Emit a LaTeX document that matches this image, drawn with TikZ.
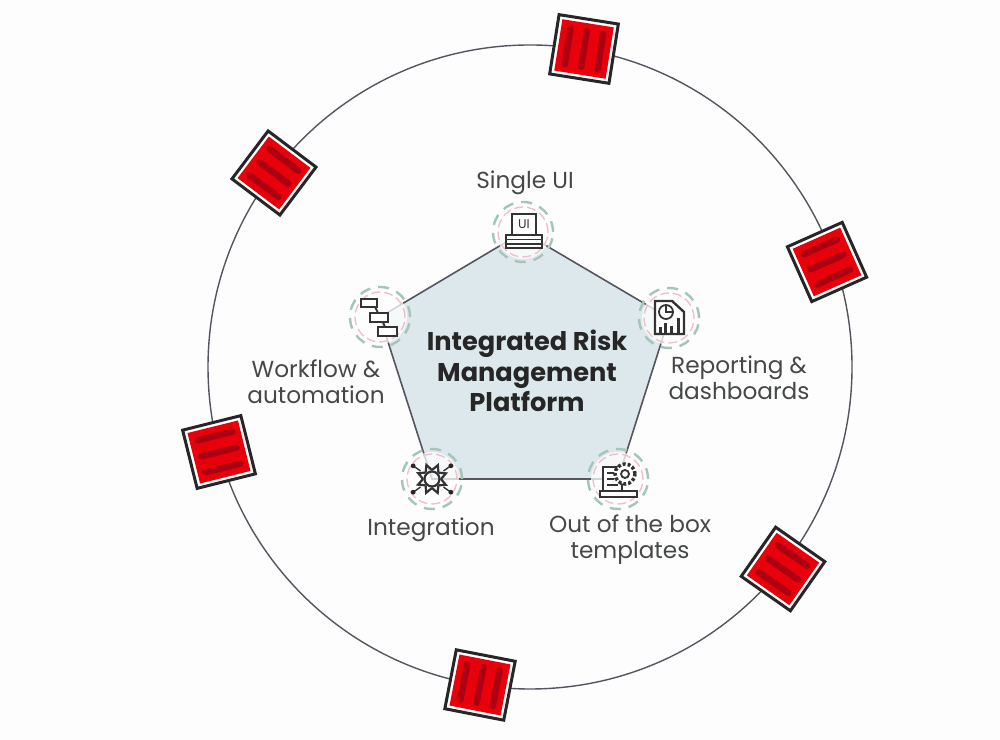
\documentclass[tikz,border=0pt]{standalone}
\usepackage{fontspec}
\setmainfont{Poppins}
\usepackage{tikz}
\usetikzlibrary{calc,positioning}
\definecolor{boxred}{RGB}{232,0,10}
\definecolor{barred}{RGB}{172,0,18}
\definecolor{ringgray}{RGB}{85,85,95}
\definecolor{penta}{RGB}{221,232,236}
\definecolor{hubgreen}{RGB}{165,196,186}
\definecolor{hubpink}{RGB}{240,192,202}
\definecolor{labelgray}{RGB}{70,72,72}
\definecolor{pagewhite}{RGB}{253,253,253}

\tikzset{
    redframe/.style={
        draw=black!85,
        fill=white,
        line width=0.03cm,
        minimum size=0.60cm,
        outer sep=0pt,
        transform shape
    },
    redfill/.style={
        fill=boxred,
        minimum size=0.52cm,
        outer sep=0pt,
        transform shape
    },
    hub/.style={
        circle,
        fill=white,
        fill opacity=0.75,
        minimum size=0.54cm
    },
    hublabel/.style={
        text=labelgray,
        font=\fontsize{6.6pt}{7.4pt}\selectfont,
        align=center
    },
    icon/.style={
        draw=black!80,
        line width=0.018cm,
        fill=white
    },
    iconbar/.style={
        draw=black!80,
        line width=0.03cm
    },
    redbox/.pic={
        \node[redframe] (-frame) {};
        \node[redfill] (-fill) {};
        \foreach \y in {-0.165,0,0.165} {
            \draw[barred,line width=0.065cm,line cap=round] (-0.18,\y) -- (0.18,\y);
        }
    }
}

\begin{document}
\begin{tikzpicture}
    \useasboundingbox[fill=pagewhite] (0,0) rectangle (10,7.4);

    % Outer ring
    \node[draw=ringgray,circle,line width=0.014cm,minimum size=6.44cm,inner sep=0pt] (ring) at (5.30,3.73) {};

    % Pentagon hubs
    \coordinate (uiC) at (5.23,5.08);
    \coordinate (repC) at (6.69,4.22);
    \coordinate (tplC) at (6.18,2.61);
    \coordinate (intC) at (4.32,2.61);
    \coordinate (wfC) at (3.80,4.23);

    \draw[fill=penta,draw=ringgray,line width=0.016cm]
        (uiC) -- (repC) -- (tplC) -- (intC) -- (wfC) -- cycle;

    \foreach \n in {ui,rep,tpl,int,wf} {
        \node[hub] (\n) at (\n C) {};
        \draw[hubpink,line width=0.014cm,dash pattern=on 0.09cm off 0.04cm] (\n C) circle (0.25);
        \draw[hubgreen,line width=0.024cm,dash pattern=on 0.11cm off 0.08cm] (\n C) circle (0.30);
    }

    % Icons
    \begin{scope}[shift={(uiC)}]
        \draw[icon,line width=0.024cm] (-0.11,-0.03) rectangle (0.13,0.18);
        \draw[icon,line width=0.024cm] (-0.17,-0.16) rectangle (0.19,-0.03);
        \draw[iconbar,line width=0.018cm] (-0.17,-0.075) -- (0.19,-0.075);
        \draw[iconbar,line width=0.018cm] (-0.17,-0.118) -- (0.19,-0.118);
        \node[scale=0.36,text=black!80] (uiT) at (0.01,0.075) {UI};
    \end{scope}
    \begin{scope}[shift={(repC)}]
        \draw[icon,line width=0.024cm] (-0.14,-0.16) -- (-0.14,0.17) -- (0.03,0.17) -- (0.15,0.06) -- (0.15,-0.16) -- cycle;
        \draw[icon] (-0.03,0.06) circle (0.07);
        \draw[iconbar,line width=0.012cm] (-0.03,0.13) -- (-0.03,0.06) -- (0.04,0.06);
        \foreach \x/\h in {-0.09/0.06,-0.04/0.10,0.02/0.07,0.09/0.15} {
            \draw[iconbar] (\x,-0.15) -- ++(0,\h);
        }
    \end{scope}
    \begin{scope}[shift={(tplC)}]
        \draw[icon,line width=0.024cm] (-0.15,-0.12) rectangle (0.04,0.12);
        \draw[icon,line width=0.024cm] (-0.18,-0.18) rectangle (0.19,-0.12);
        \draw[icon,line width=0.035cm,dash pattern=on 0.03cm off 0.02cm] (0.07,0.05) circle (0.10);
        \draw[icon] (0.07,0.05) circle (0.04);
        \draw[iconbar,line width=0.018cm] (-0.11,0.06) -- (-0.04,0.06);
        \draw[iconbar,line width=0.018cm] (-0.11,0.0) -- (-0.04,0.0);
        \draw[iconbar,line width=0.018cm] (-0.11,-0.06) -- (0.0,-0.06);
    \end{scope}
    \begin{scope}[shift={(intC)}]
        \draw[icon,line width=0.022cm,fill=none] (0,0) circle (0.075);
        \foreach \a in {0,45,...,315} {
            \draw[iconbar,line width=0.022cm] (\a:0.09) -- (\a+22:0.15) -- (\a+45:0.09);
        }
        \foreach \a in {35,145,215,325} {
            \draw[iconbar,line width=0.014cm] (\a:0.14) -- (\a:0.23);
            \fill[black!85] (\a:0.23) circle (0.024);
        }
    \end{scope}
    \begin{scope}[shift={(wfC)}]
        \draw[icon,line width=0.026cm] (-0.19,0.10) rectangle (-0.03,0.18);
        \draw[icon,line width=0.026cm] (-0.10,-0.05) rectangle (0.08,0.04);
        \draw[icon,line width=0.026cm] (-0.02,-0.19) rectangle (0.17,-0.10);
        \draw[icon] (-0.05,0.10) -- (-0.02,0.04);
        \draw[icon] (0.03,-0.05) -- (0.05,-0.10);
    \end{scope}

    % Labels
    \node[hublabel] (uiL) at (5.25,5.57) {Single UI};
    \node[hublabel] (repL) at (7.39,3.62) {Reporting \&\\dashboards};
    \node[hublabel] (tplL) at (6.30,2.00) {Out of the box\\templates};
    \node[hublabel] (intL) at (4.31,2.10) {Integration};
    \node[hublabel] (wfL) at (3.16,3.58) {Workflow \&\\automation};

    \node[font=\fontsize{7.3pt}{8.6pt}\selectfont\bfseries,text=black!85,align=center] (title) at (5.27,3.69)
        {Integrated Risk\\Management\\Platform};

    % Red boxes on the ring
    \foreach \n/\x/\y/\r in {a/5.84/6.91/81,b/8.27/4.78/24,c/7.83/1.71/-35,d/4.80/0.55/79,e/2.19/2.88/14,f/2.74/5.67/-37} {
        \pic[rotate=\r] (box\n) at (\x,\y) {redbox};
    }
\end{tikzpicture}
\end{document}
